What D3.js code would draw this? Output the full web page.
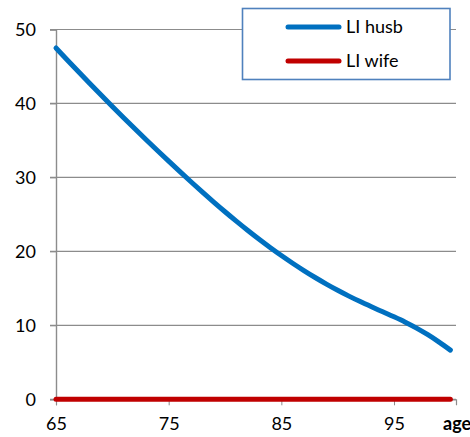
<!DOCTYPE html>
<html>
<head>
<meta charset="utf-8">
<script src="https://cdn.jsdelivr.net/npm/d3@7"></script>
<style>
  html, body { margin: 0; padding: 0; background: #fff; }
  svg { display: block; }
  text { font-family: Lato, "Open Sans", sans-serif; fill: #000; }
</style>
</head>
<body>
<svg id="chart" width="470" height="437"></svg>
<script>
// Ages on the horizontal axis
const ages = d3.range(65, 101);

// Life insurance need for the husband, by age
const liHusb = [
  47.50, 45.88, 44.28, 42.70, 41.14, 39.60, 38.08, 36.58, 35.10, 33.64,
  32.20, 30.78, 29.38, 28.01, 26.67, 25.36, 24.09, 22.86, 21.67, 20.53,
  19.44, 18.40, 17.41, 16.47, 15.58, 14.74, 13.95, 13.21, 12.51, 11.83,
  11.15, 10.43, 9.63, 8.73, 7.73, 6.65
];

// Life insurance need for the wife, by age
const liWife = [
  0, 0, 0, 0, 0, 0, 0, 0, 0, 0,
  0, 0, 0, 0, 0, 0, 0, 0, 0, 0,
  0, 0, 0, 0, 0, 0, 0, 0, 0, 0,
  0, 0, 0, 0, 0, 0
];

const seriesNames = ["LI husb", "LI wife"];
const seriesColors = ["#0070C0", "#C00000"];
const xTicks = [65, 75, 85, 95];
const yTicks = [0, 10, 20, 30, 40, 50];
const xTitle = "age";

const svg = d3.select("#chart");
const plotLeft = 56, plotRight = 456, plotTop = 29.5, plotBottom = 399.3;

const x = d3.scaleLinear().domain([65, 100.5]).range([plotLeft, plotRight]);
const y = d3.scaleLinear().domain([0, 50]).range([plotBottom, plotTop]);

// Horizontal gridlines
svg.append("g")
  .selectAll("line")
  .data(yTicks)
  .join("line")
  .attr("x1", plotLeft - 6).attr("x2", plotRight)
  .attr("y1", d => y(d)).attr("y2", d => y(d))
  .attr("stroke", "#8c8c8c").attr("stroke-width", 1.2);

// Y axis
const yAxis = svg.append("g")
  .attr("transform", `translate(${plotLeft},0)`)
  .call(d3.axisLeft(y).tickValues(yTicks).tickSize(6).tickPadding(14));
yAxis.select(".domain").attr("stroke", "#8c8c8c").attr("stroke-width", 1.4);
yAxis.selectAll(".tick line").attr("stroke", "#8c8c8c");
yAxis.selectAll(".tick text")
  .style("font-family", "Lato, sans-serif").style("font-size", "18px").attr("fill", "#000");

// X axis
const xAxis = svg.append("g")
  .attr("transform", `translate(0,${plotBottom})`)
  .call(d3.axisBottom(x).tickValues(xTicks).tickSize(6).tickPadding(12).tickFormat(d3.format("d")));
xAxis.select(".domain").attr("stroke", "#8c8c8c").attr("stroke-width", 1.2);
xAxis.selectAll(".tick line").attr("stroke", "#8c8c8c");
xAxis.selectAll(".tick text")
  .style("font-family", "Lato, sans-serif").style("font-size", "18px").attr("fill", "#000");

svg.append("text")
  .attr("x", 443).attr("y", 430)
  .style("font-size", "18px").style("font-weight", "bold")
  .text(xTitle);

// Series lines
const line = d3.line()
  .x((d, i) => x(ages[i]))
  .y(d => y(d))
  .curve(d3.curveMonotoneX);

[[liWife, seriesColors[1]], [liHusb, seriesColors[0]]].forEach(([vals, color]) => {
  svg.append("path")
    .datum(vals)
    .attr("d", line)
    .attr("fill", "none")
    .attr("stroke", color)
    .attr("stroke-width", 5)
    .attr("stroke-linecap", "round")
    .attr("stroke-linejoin", "round");
});

// Legend
const legend = svg.append("g");
legend.append("rect")
  .attr("x", 242.5).attr("y", 8.5).attr("width", 207.5).attr("height", 71)
  .attr("fill", "#fff").attr("stroke", "#4F81BD").attr("stroke-width", 1.6);
seriesNames.forEach((name, i) => {
  const ly = 27 + i * 34;
  legend.append("line")
    .attr("x1", 288).attr("x2", 339)
    .attr("y1", ly).attr("y2", ly)
    .attr("stroke", seriesColors[i]).attr("stroke-width", 5)
    .attr("stroke-linecap", "round");
  legend.append("text")
    .attr("x", 346).attr("y", ly)
    .attr("dy", "0.35em")
    .style("font-size", "18px")
    .text(name);
});
</script>
</body>
</html>
